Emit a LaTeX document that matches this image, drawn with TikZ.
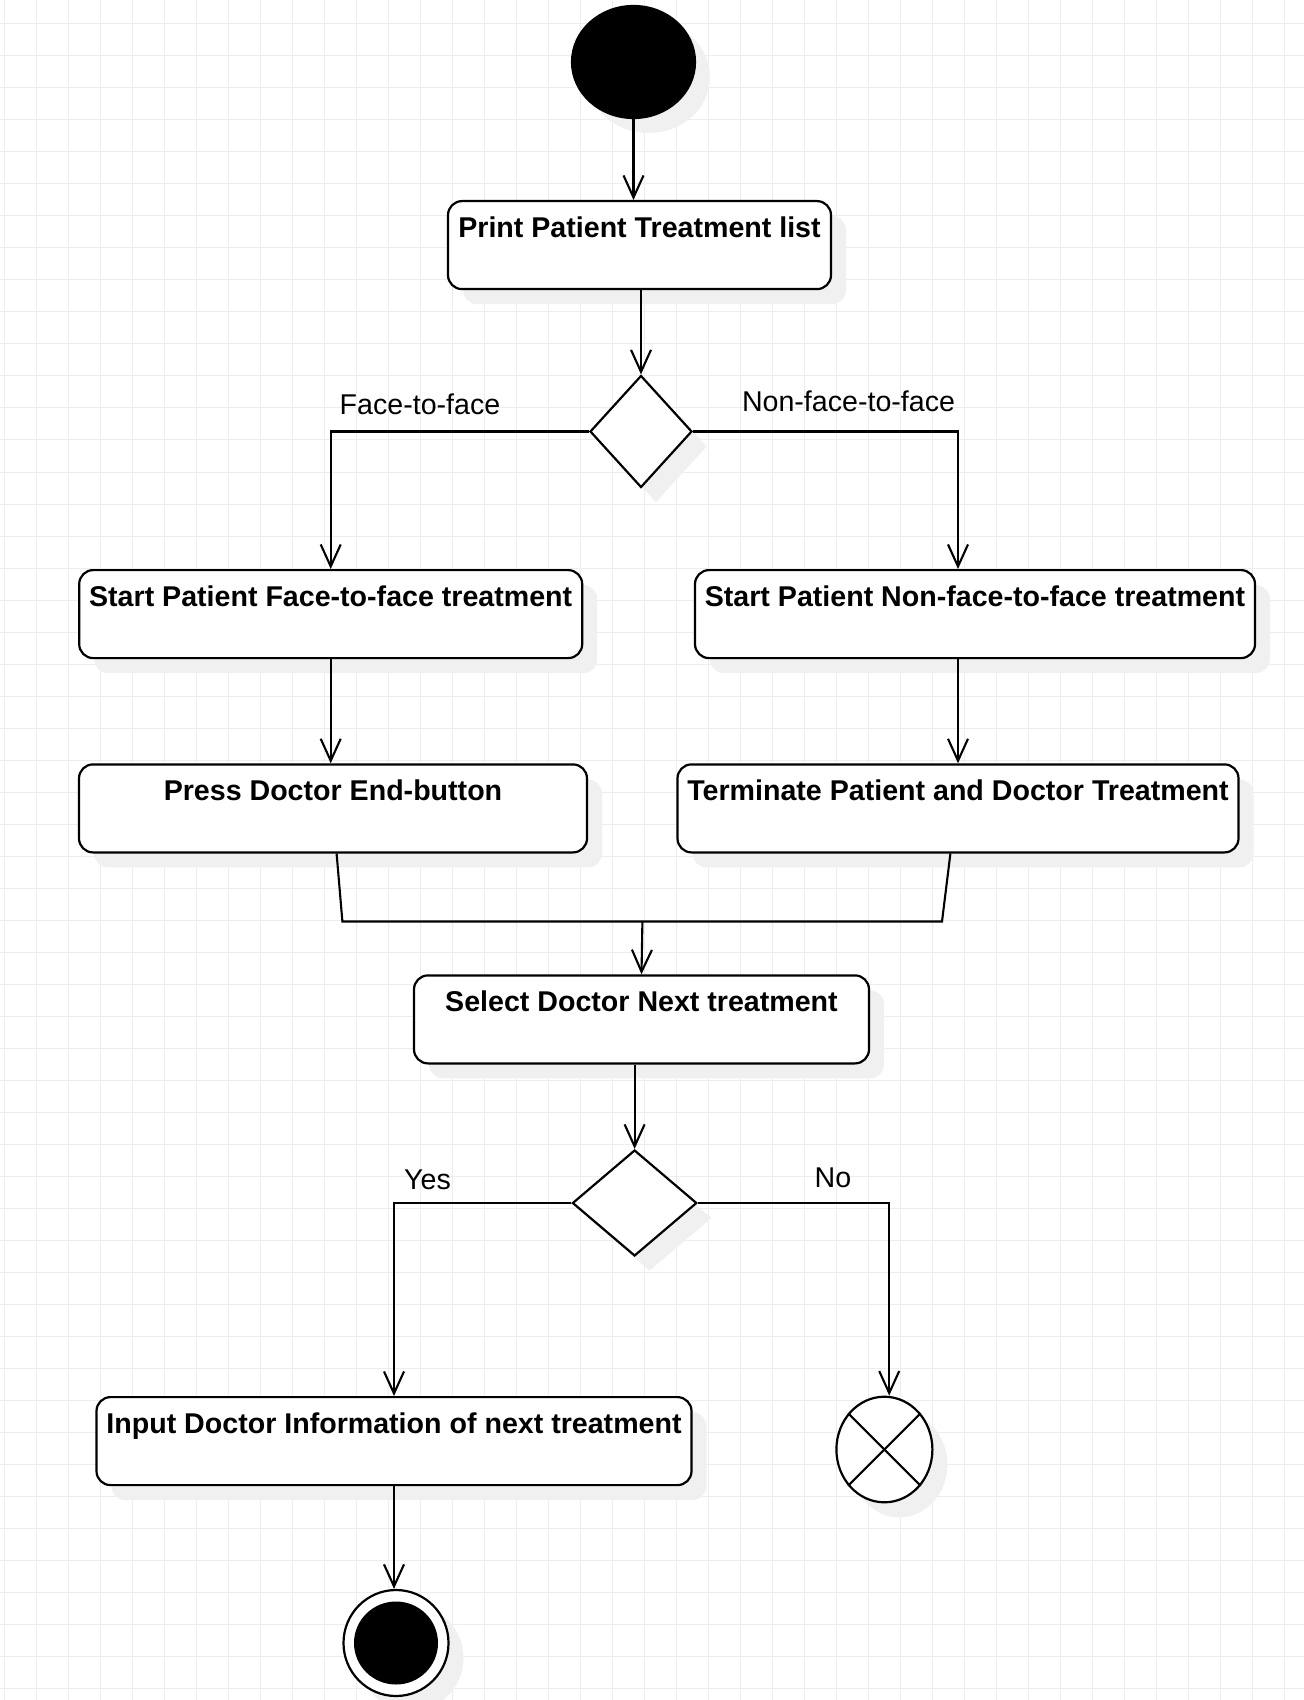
\documentclass[tikz,border=0pt]{standalone}
\usepackage{fontspec}
\setmainfont{Liberation Sans}
\usepackage{tikz}
\usetikzlibrary{positioning}
\usetikzlibrary{arrows.meta}
\usetikzlibrary{shapes.geometric}
\usetikzlibrary{shadows}
\definecolor{gridgray}{RGB}{237,237,237}
\definecolor{shadowgray}{RGB}{240,240,240}

\begin{document}
\begin{tikzpicture}[x=0.5pt, y=-0.5pt,
    font=\fontsize{14.3}{17}\selectfont,
    softshadow/.style={drop shadow={shadow xshift=7.5pt, shadow yshift=-7.5pt, fill=shadowgray, opacity=1}},
    action/.style={draw, line width=1.1pt, fill=white, rounded corners=7pt, softshadow, anchor=north,
        minimum height=44pt, inner xsep=0pt, inner ysep=0pt, text height=18.25pt, text depth=25.75pt,
        font=\fontsize{14.3}{17}\selectfont\bfseries},
    decision/.style={draw, diamond, line width=1.1pt, fill=white, softshadow, inner sep=0pt},
    disc/.style={draw, ellipse, line width=1.1pt, inner sep=0pt, softshadow},
    flow/.style={draw, line width=1.05pt, -{Straight Barb[length=11pt, width=10pt]}},
    conn/.style={draw, line width=1.05pt},
    guard/.style={anchor=base},
    gridline/.style={gridgray, line width=0.5pt}]

    \useasboundingbox (0,0) rectangle (1304,1700);
    \fill[white] (0,0) rectangle (1304,1700);

    % Background grid
    \foreach \gx in {4,36,...,1284} {
        \draw[gridline] (\gx,0) -- (\gx,1700);
    }
    \foreach \gy in {24,56,...,1688} {
        \draw[gridline] (0,\gy) -- (1304,\gy);
    }

    % Start and first action
    \node[disc, fill=black, minimum width=61.5pt, minimum height=56pt] (init) at (633.5,62) {};
    \node[action, minimum width=191.5pt] (print) at (639.5,200) {Print Patient Treatment list};

    % First decision: face-to-face or not
    \node[decision, minimum width=51pt, minimum height=56pt] (dec1) at (641,431.5) {};
    \node[guard] (lblface) at (420,414.7) {Face-to-face};
    \node[guard] (lblnonface) at (848.5,411.7) {Non-face-to-face};

    % Two branches
    \node[action, minimum width=251.5pt] (startF) at (330.7,569) {Start Patient Face-to-face treatment};
    \node[action, minimum width=280pt] (startN) at (975,569) {Start Patient Non-face-to-face treatment};
    \node[action, minimum width=254pt] (press) at (333,763.3) {Press Doctor End-button};
    \node[action, minimum width=280.5pt] (term) at (958,763.3) {Terminate Patient and Doctor Treatment};

    % Merge of both branches
    \coordinate (joinL) at (342.4,921.5);
    \coordinate (joinR) at (942,921.5);
    \coordinate (joinM) at (642.4,921.5);
    \node[action, minimum width=227.5pt] (select) at (641.5,974.3) {Select Doctor Next treatment};

    % Second decision: next treatment or not
    \node[decision, minimum width=62.2pt, minimum height=53pt] (dec2) at (634.6,1203) {};
    \node[guard] (lblyes) at (427.5,1189) {Yes};
    \node[guard] (lblno) at (833,1187.3) {No};
    \node[action, minimum width=297.5pt] (input) at (394,1396) {Input Doctor Information of next treatment};

    % Flow final and activity final
    \node[disc, fill=white, minimum width=48pt, minimum height=52.8pt] (abort) at (884.4,1449.5) {};
    \draw[conn] (abort.135) -- (abort.-45);
    \draw[conn] (abort.45) -- (abort.-135);
    \node[disc, fill=white, minimum width=52.5pt, minimum height=53pt] (stop) at (396,1643) {};
    \node[ellipse, fill=black, inner sep=0pt, minimum width=42pt, minimum height=41.5pt] (stopdot) at (stop.center) {};

    % Connectors
    \draw[flow] (init.south) -- (init.south |- print.north);
    \draw[flow] (print.south -| dec1.north) -- (dec1.north);
    \draw[flow] (dec1.west) -| (startF.north);
    \draw[flow] (dec1.east) -| (term.north |- startN.north);
    \draw[flow] (startF.south) -- (startF.south |- press.north);
    \draw[flow] (term.north |- startN.south) -- (term.north);
    \draw[conn] ([xshift=1.8pt]press.south) -- (joinL) -- (joinR) -- ([xshift=-3.8pt]term.south);
    \draw[flow] (joinM) -- (select.north);
    \draw[flow] (select.south -| dec2.north) -- (dec2.north);
    \draw[flow] (dec2.west) -| (input.north);
    \draw[flow] (dec2.east) -| ([xshift=2.4pt]abort.north);
    \draw[flow] (input.south) -- (input.south |- stop.north);
\end{tikzpicture}
\end{document}
